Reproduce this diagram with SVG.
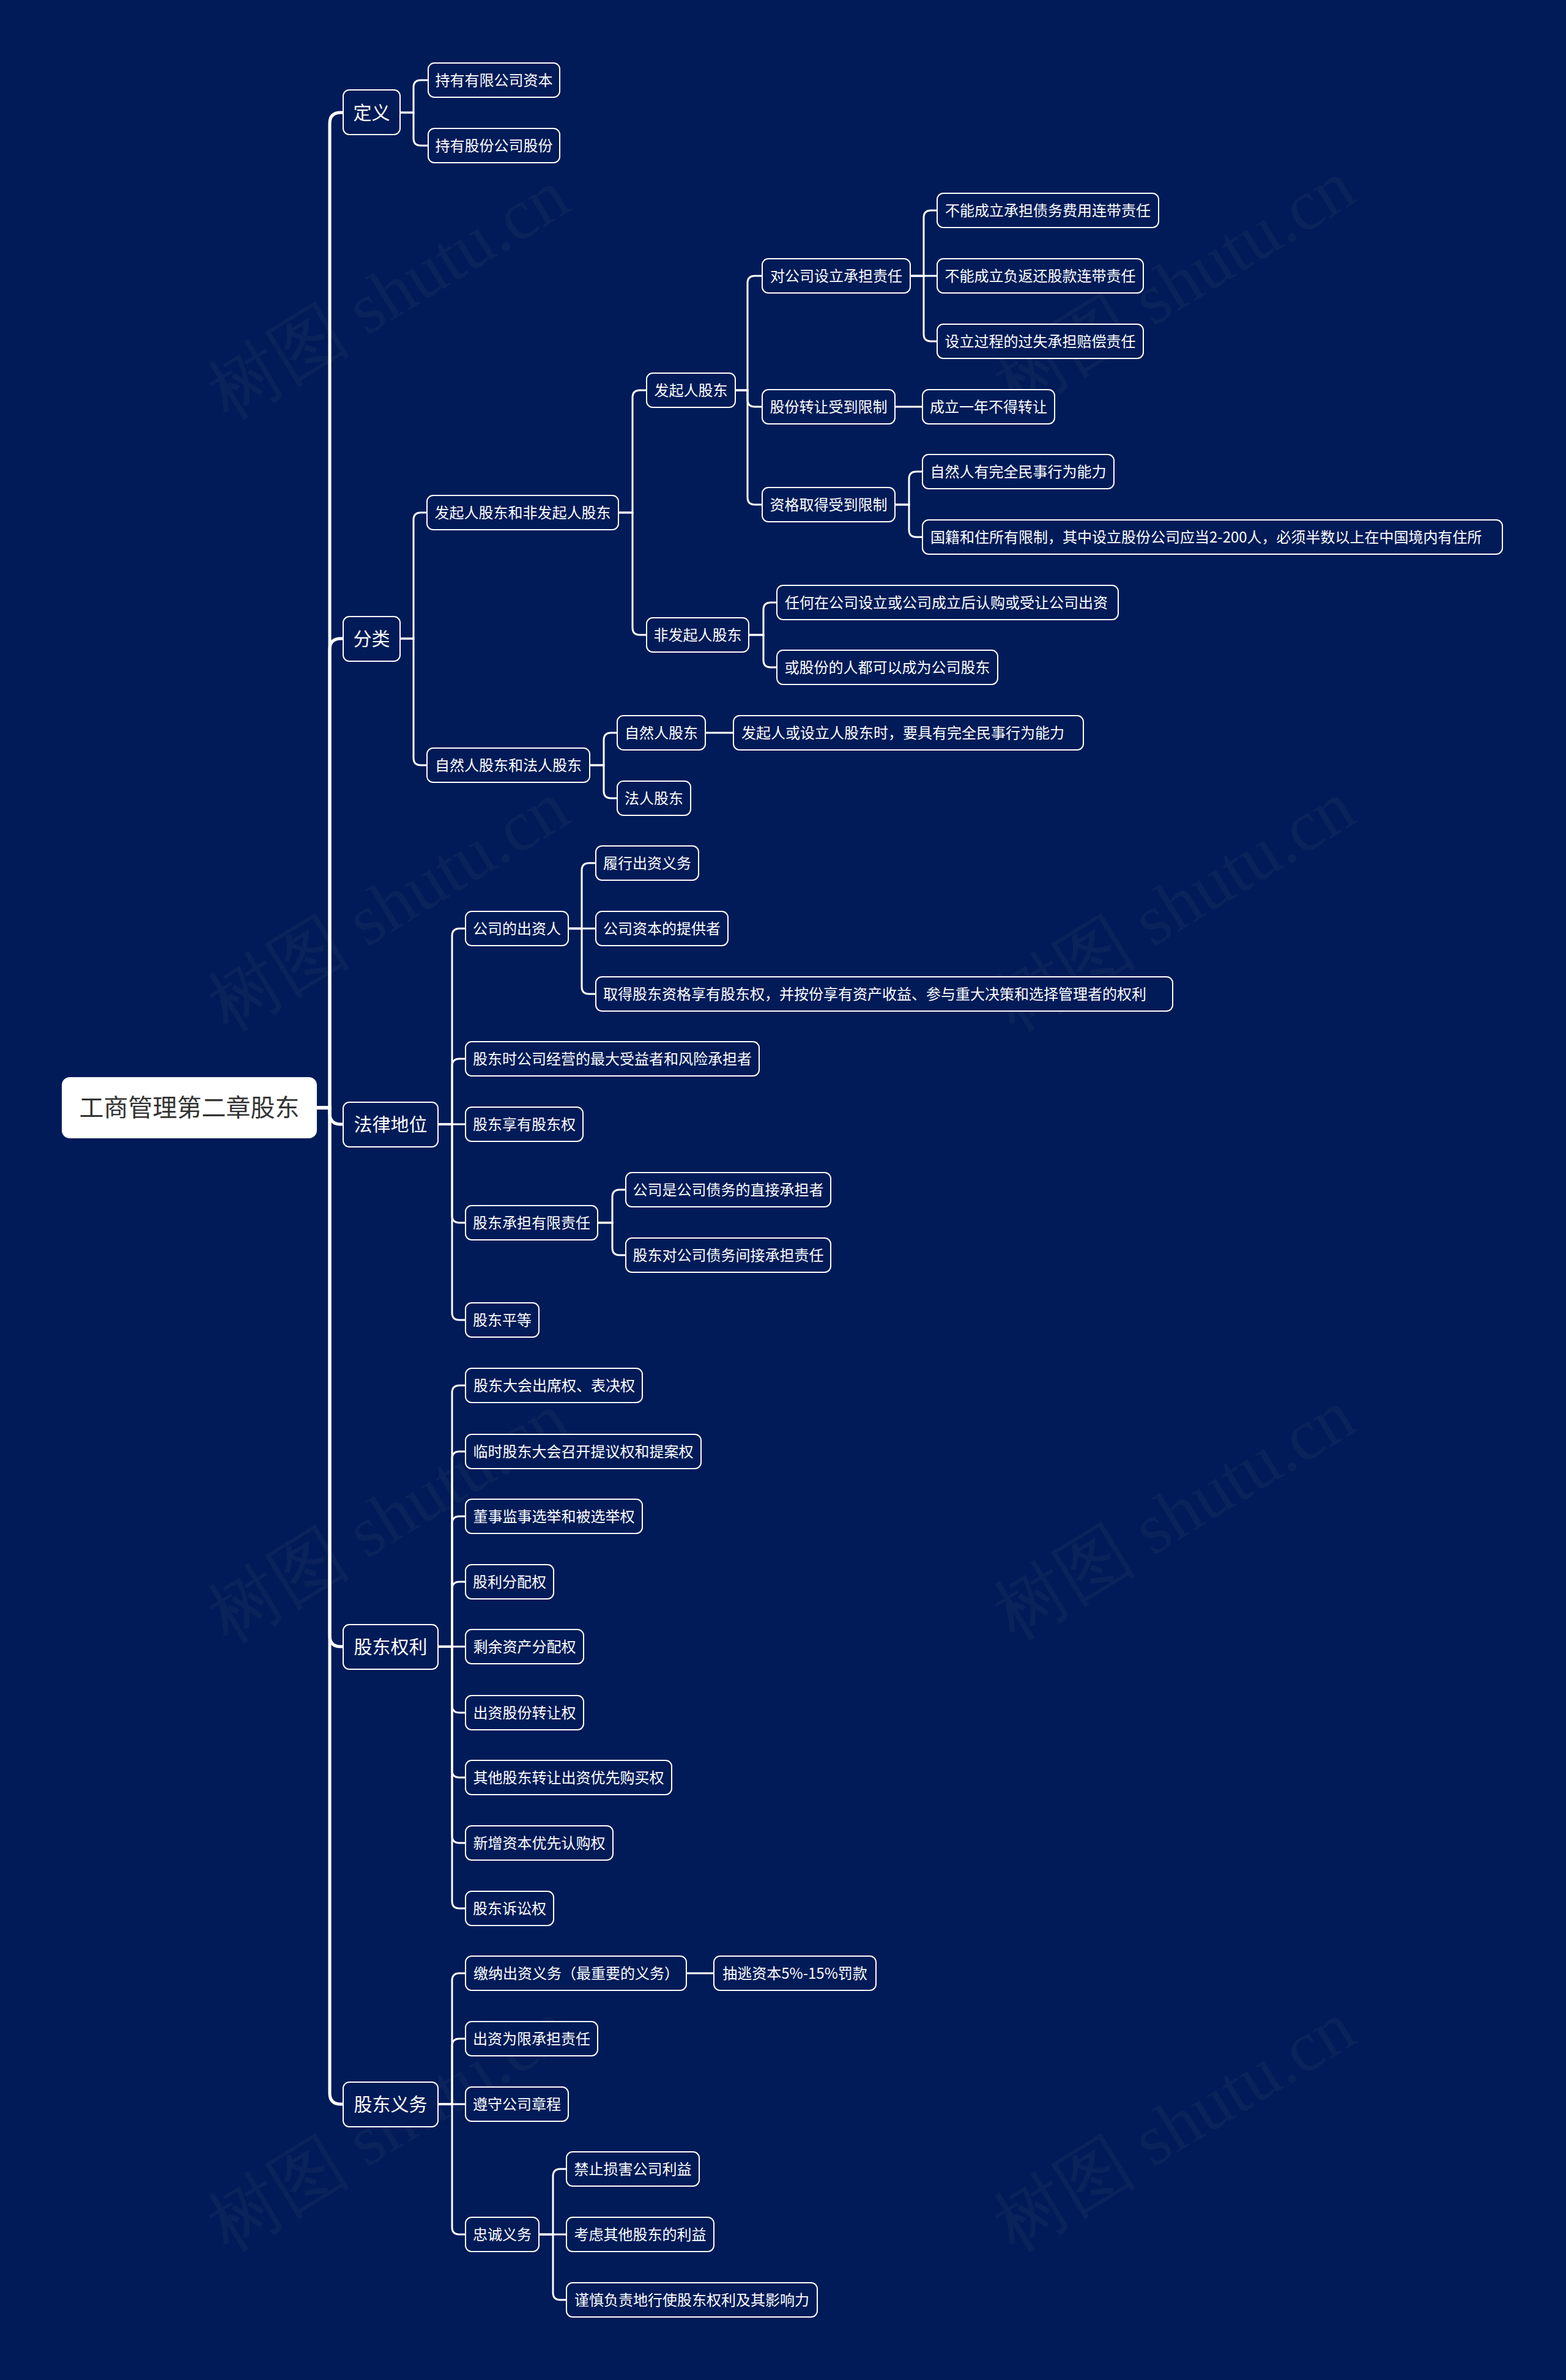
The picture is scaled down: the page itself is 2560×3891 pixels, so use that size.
<svg xmlns="http://www.w3.org/2000/svg" width="2560" height="3891" viewBox="0 0 2560 3891">
<style>
.bg{fill:#001b58}
.wm{fill:#8a8a8a;fill-opacity:0.07;font-family:"Liberation Serif","DejaVu Serif",serif;font-size:118px;text-anchor:middle}
.n rect{fill:#001b58;stroke:#ffffff;stroke-width:2}
.n text{fill:#ffffff;font-family:"Noto Sans CJK SC","Noto Sans",sans-serif;font-size:24px;text-anchor:middle}
.n text.s{text-anchor:start}
.l1 text{font-size:30px}
.root rect{fill:#ffffff;stroke:#ffffff}
.root text{fill:#333333;font-size:40px}
.c path{fill:none;stroke:#ffffff;stroke-width:3;stroke-linecap:round}
.c path.t{stroke-width:5}
</style>
<rect class="bg" x="0" y="0" width="2560" height="3891"/>
<g id="watermark">
<text class="wm" transform="translate(655,515) rotate(-31.5)">树图 shutu.cn</text>
<text class="wm" transform="translate(1940,500) rotate(-31.5)">树图 shutu.cn</text>
<text class="wm" transform="translate(655,1515) rotate(-31.5)">树图 shutu.cn</text>
<text class="wm" transform="translate(1940,1515) rotate(-31.5)">树图 shutu.cn</text>
<text class="wm" transform="translate(655,2515) rotate(-31.5)">树图 shutu.cn</text>
<text class="wm" transform="translate(1940,2510) rotate(-31.5)">树图 shutu.cn</text>
<text class="wm" transform="translate(655,3510) rotate(-31.5)">树图 shutu.cn</text>
<text class="wm" transform="translate(1940,3510) rotate(-31.5)">树图 shutu.cn</text>
</g>
<g id="connectors" class="c">
<path class="t" d="M517 1811 H539 V202 Q539 184 557 184 H561"/>
<path class="t" d="M517 1811 H539 V1062 Q539 1044 557 1044 H561"/>
<path class="t" d="M517 1811 H539 V1820 Q539 1838 557 1838 H561"/>
<path class="t" d="M517 1811 H539 V2674 Q539 2692 557 2692 H561"/>
<path class="t" d="M517 1811 H539 V3422 Q539 3440 557 3440 H561"/>
<path d="M654 184 H676 V143 Q676 131 688 131 H700"/>
<path d="M654 184 H676 V226 Q676 238 688 238 H700"/>
<path d="M654 1044 H676 V850 Q676 838 688 838 H698"/>
<path d="M654 1044 H676 V1239 Q676 1251 688 1251 H698"/>
<path d="M1011 838 H1034 V650 Q1034 638 1046 638 H1057"/>
<path d="M1011 838 H1034 V1026 Q1034 1038 1046 1038 H1057"/>
<path d="M1202 638 H1222 V463 Q1222 451 1234 451 H1246"/>
<path d="M1202 638 H1222 V653 Q1222 665 1234 665 H1246"/>
<path d="M1202 638 H1222 V813 Q1222 825 1234 825 H1246"/>
<path d="M1488 451 H1510 V356 Q1510 344 1522 344 H1532"/>
<path d="M1488 451 H1532"/>
<path d="M1488 451 H1510 V546 Q1510 558 1522 558 H1532"/>
<path d="M1463 665 H1508"/>
<path d="M1463 825 H1486 V783 Q1486 771 1498 771 H1508"/>
<path d="M1463 825 H1486 V866 Q1486 878 1498 878 H1508"/>
<path d="M1224 1038 H1248 V997 Q1248 985 1260 985 H1270"/>
<path d="M1224 1038 H1248 V1079 Q1248 1091 1260 1091 H1270"/>
<path d="M964 1251 H987 V1210 Q987 1198 999 1198 H1009"/>
<path d="M964 1251 H987 V1293 Q987 1305 999 1305 H1009"/>
<path d="M1153 1198 H1199"/>
<path d="M716 1838 H739 V1530 Q739 1518 751 1518 H761"/>
<path d="M716 1838 H739 V1743 Q739 1731 751 1731 H761"/>
<path d="M716 1838 H761"/>
<path d="M716 1838 H739 V1987 Q739 1999 751 1999 H761"/>
<path d="M716 1838 H739 V2146 Q739 2158 751 2158 H761"/>
<path d="M929 1518 H951 V1423 Q951 1411 963 1411 H974"/>
<path d="M929 1518 H974"/>
<path d="M929 1518 H951 V1613 Q951 1625 963 1625 H974"/>
<path d="M977 1999 H1001 V1957 Q1001 1945 1013 1945 H1023"/>
<path d="M977 1999 H1001 V2040 Q1001 2052 1013 2052 H1023"/>
<path d="M716 2692 H739 V2277 Q739 2265 751 2265 H761"/>
<path d="M716 2692 H739 V2385 Q739 2373 751 2373 H761"/>
<path d="M716 2692 H739 V2491 Q739 2479 751 2479 H761"/>
<path d="M716 2692 H739 V2598 Q739 2586 751 2586 H761"/>
<path d="M716 2692 H761"/>
<path d="M716 2692 H739 V2788 Q739 2800 751 2800 H761"/>
<path d="M716 2692 H739 V2894 Q739 2906 751 2906 H761"/>
<path d="M716 2692 H739 V3001 Q739 3013 751 3013 H761"/>
<path d="M716 2692 H739 V3108 Q739 3120 751 3120 H761"/>
<path d="M716 3440 H739 V3238 Q739 3226 751 3226 H761"/>
<path d="M716 3440 H739 V3345 Q739 3333 751 3333 H761"/>
<path d="M716 3440 H761"/>
<path d="M716 3440 H739 V3641 Q739 3653 751 3653 H761"/>
<path d="M1122 3226 H1167"/>
<path d="M881 3653 H904 V3558 Q904 3546 916 3546 H926"/>
<path d="M881 3653 H926"/>
<path d="M881 3653 H904 V3748 Q904 3760 916 3760 H926"/>
</g>
<g id="root" class="n root"><rect x="102" y="1762" width="415" height="98" rx="12"/><text x="309.5" y="1825">工商管理第二章股东</text></g>
<g id="n_dingyi" class="n l1"><rect x="561" y="147" width="93" height="73" rx="10"/><text x="607.5" y="195">定义</text></g>
<g id="n_fenlei" class="n l1"><rect x="561" y="1008" width="93" height="73" rx="10"/><text x="607.5" y="1055">分类</text></g>
<g id="n_falv" class="n l1"><rect x="561" y="1802" width="155" height="73" rx="10"/><text x="638.5" y="1849">法律地位</text></g>
<g id="n_quanli" class="n l1"><rect x="561" y="2656" width="155" height="73" rx="10"/><text x="638.5" y="2703">股东权利</text></g>
<g id="n_yiwu" class="n l1"><rect x="561" y="3404" width="155" height="73" rx="10"/><text x="638.5" y="3451">股东义务</text></g>
<g id="n_dy1" class="n"><rect x="700" y="103" width="215" height="56" rx="10"/><text x="807.5" y="139.5">持有有限公司资本</text></g>
<g id="n_dy2" class="n"><rect x="700" y="210" width="215" height="56" rx="10"/><text x="807.5" y="246.5">持有股份公司股份</text></g>
<g id="n_fl1" class="n"><rect x="698" y="810" width="313" height="56" rx="10"/><text x="854.5" y="846.5">发起人股东和非发起人股东</text></g>
<g id="n_fl2" class="n"><rect x="698" y="1223" width="266" height="56" rx="10"/><text x="831" y="1259.5">自然人股东和法人股东</text></g>
<g id="n_fqr" class="n"><rect x="1057" y="610" width="145" height="56" rx="10"/><text x="1129.5" y="646.5">发起人股东</text></g>
<g id="n_ffqr" class="n"><rect x="1057" y="1010" width="167" height="56" rx="10"/><text x="1140.5" y="1046.5">非发起人股东</text></g>
<g id="n_zr1" class="n"><rect x="1246" y="423" width="242" height="56" rx="10"/><text x="1367" y="459.5">对公司设立承担责任</text></g>
<g id="n_zr2" class="n"><rect x="1246" y="637" width="217" height="56" rx="10"/><text x="1354.5" y="673.5">股份转让受到限制</text></g>
<g id="n_zr3" class="n"><rect x="1246" y="797" width="217" height="56" rx="10"/><text x="1354.5" y="833.5">资格取得受到限制</text></g>
<g id="n_a1" class="n"><rect x="1532" y="316" width="362" height="56" rx="10"/><text x="1713" y="352.5">不能成立承担债务费用连带责任</text></g>
<g id="n_a2" class="n"><rect x="1532" y="423" width="337" height="56" rx="10"/><text x="1700.5" y="459.5">不能成立负返还股款连带责任</text></g>
<g id="n_a3" class="n"><rect x="1532" y="530" width="337" height="56" rx="10"/><text x="1700.5" y="566.5">设立过程的过失承担赔偿责任</text></g>
<g id="n_b1" class="n"><rect x="1508" y="637" width="216" height="56" rx="10"/><text x="1616" y="673.5">成立一年不得转让</text></g>
<g id="n_c1" class="n"><rect x="1508" y="743" width="313" height="56" rx="10"/><text x="1664.5" y="779.5">自然人有完全民事行为能力</text></g>
<g id="n_c2" class="n"><rect x="1508" y="850" width="948" height="56" rx="10"/><text class="s" x="1521" y="886.5">国籍和住所有限制，其中设立股份公司应当2-200人，必须半数以上在中国境内有住所</text></g>
<g id="n_d1" class="n"><rect x="1270" y="957" width="558" height="56" rx="10"/><text class="s" x="1283" y="993.5">任何在公司设立或公司成立后认购或受让公司出资</text></g>
<g id="n_d2" class="n"><rect x="1270" y="1063" width="361" height="56" rx="10"/><text x="1450.5" y="1099.5">或股份的人都可以成为公司股东</text></g>
<g id="n_zrr" class="n"><rect x="1009" y="1170" width="144" height="56" rx="10"/><text x="1081" y="1206.5">自然人股东</text></g>
<g id="n_frr" class="n"><rect x="1009" y="1277" width="120" height="56" rx="10"/><text x="1069" y="1313.5">法人股东</text></g>
<g id="n_e1" class="n"><rect x="1199" y="1170" width="572" height="56" rx="10"/><text class="s" x="1212" y="1206.5">发起人或设立人股东时，要具有完全民事行为能力</text></g>
<g id="n_f1" class="n"><rect x="761" y="1490" width="168" height="56" rx="10"/><text x="845" y="1526.5">公司的出资人</text></g>
<g id="n_f2" class="n"><rect x="761" y="1703" width="480" height="56" rx="10"/><text x="1001" y="1739.5">股东时公司经营的最大受益者和风险承担者</text></g>
<g id="n_f3" class="n"><rect x="761" y="1810" width="192" height="56" rx="10"/><text x="857" y="1846.5">股东享有股东权</text></g>
<g id="n_f4" class="n"><rect x="761" y="1971" width="216" height="56" rx="10"/><text x="869" y="2007.5">股东承担有限责任</text></g>
<g id="n_f5" class="n"><rect x="761" y="2130" width="120" height="56" rx="10"/><text x="821" y="2166.5">股东平等</text></g>
<g id="n_g1" class="n"><rect x="974" y="1383" width="168" height="56" rx="10"/><text x="1058" y="1419.5">履行出资义务</text></g>
<g id="n_g2" class="n"><rect x="974" y="1490" width="216" height="56" rx="10"/><text x="1082" y="1526.5">公司资本的提供者</text></g>
<g id="n_g3" class="n"><rect x="974" y="1597" width="943" height="56" rx="10"/><text class="s" x="986" y="1633.5">取得股东资格享有股东权，并按份享有资产收益、参与重大决策和选择管理者的权利</text></g>
<g id="n_h1" class="n"><rect x="1023" y="1917" width="335" height="56" rx="10"/><text x="1190.5" y="1953.5">公司是公司债务的直接承担者</text></g>
<g id="n_h2" class="n"><rect x="1023" y="2024" width="335" height="56" rx="10"/><text x="1190.5" y="2060.5">股东对公司债务间接承担责任</text></g>
<g id="n_q1" class="n"><rect x="761" y="2237" width="289" height="56" rx="10"/><text class="s" x="774" y="2273.5">股东大会出席权、表决权</text></g>
<g id="n_q2" class="n"><rect x="761" y="2345" width="385" height="56" rx="10"/><text x="953.5" y="2381.5">临时股东大会召开提议权和提案权</text></g>
<g id="n_q3" class="n"><rect x="761" y="2451" width="289" height="56" rx="10"/><text x="905.5" y="2487.5">董事监事选举和被选举权</text></g>
<g id="n_q4" class="n"><rect x="761" y="2558" width="144" height="56" rx="10"/><text x="833" y="2594.5">股利分配权</text></g>
<g id="n_q5" class="n"><rect x="761" y="2664" width="193" height="56" rx="10"/><text x="857.5" y="2700.5">剩余资产分配权</text></g>
<g id="n_q6" class="n"><rect x="761" y="2772" width="193" height="56" rx="10"/><text x="857.5" y="2808.5">出资股份转让权</text></g>
<g id="n_q7" class="n"><rect x="761" y="2878" width="337" height="56" rx="10"/><text x="929.5" y="2914.5">其他股东转让出资优先购买权</text></g>
<g id="n_q8" class="n"><rect x="761" y="2985" width="241" height="56" rx="10"/><text x="881.5" y="3021.5">新增资本优先认购权</text></g>
<g id="n_q9" class="n"><rect x="761" y="3092" width="144" height="56" rx="10"/><text x="833" y="3128.5">股东诉讼权</text></g>
<g id="n_y1" class="n"><rect x="761" y="3198" width="361" height="56" rx="10"/><text class="s" x="774" y="3234.5">缴纳出资义务（最重要的义务）</text></g>
<g id="n_y2" class="n"><rect x="761" y="3305" width="216" height="56" rx="10"/><text x="869" y="3341.5">出资为限承担责任</text></g>
<g id="n_y3" class="n"><rect x="761" y="3412" width="168" height="56" rx="10"/><text x="845" y="3448.5">遵守公司章程</text></g>
<g id="n_y4" class="n"><rect x="761" y="3625" width="120" height="56" rx="10"/><text x="821" y="3661.5">忠诚义务</text></g>
<g id="n_y1a" class="n"><rect x="1167" y="3198" width="265" height="56" rx="10"/><text x="1299.5" y="3234.5">抽逃资本5%-15%罚款</text></g>
<g id="n_z1" class="n"><rect x="926" y="3518" width="217" height="56" rx="10"/><text x="1034.5" y="3554.5">禁止损害公司利益</text></g>
<g id="n_z2" class="n"><rect x="926" y="3625" width="241" height="56" rx="10"/><text x="1046.5" y="3661.5">考虑其他股东的利益</text></g>
<g id="n_z3" class="n"><rect x="926" y="3732" width="410" height="56" rx="10"/><text x="1131" y="3768.5">谨慎负责地行使股东权利及其影响力</text></g>
</svg>
